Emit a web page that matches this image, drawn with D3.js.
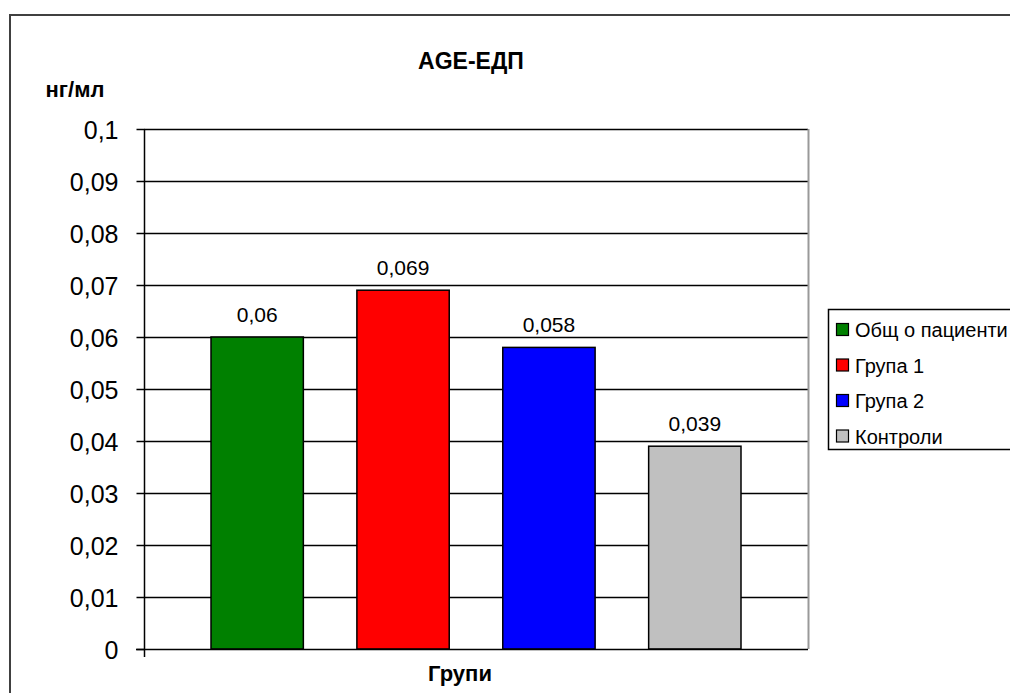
<!DOCTYPE html>
<html><head><meta charset="utf-8">
<script src="https://cdn.jsdelivr.net/npm/d3@7"></script>
<style>body{margin:0;background:#fff;}svg{display:block;font-family:"Liberation Sans",Arial,sans-serif;}</style>
</head><body><svg id="c" width="1010" height="693"></svg>
<script>
const series = ["Общ о пациенти", "Група 1", "Група 2", "Контроли"];
const values = [0.06, 0.069, 0.058, 0.039];
const labels = ["0,06", "0,069", "0,058", "0,039"];
const colors = ["#008000", "#ff0000", "#0000ff", "#c0c0c0"];
const yTicks = [0, 0.01, 0.02, 0.03, 0.04, 0.05, 0.06, 0.07, 0.08, 0.09, 0.1];
const yTickLabels = ["0", "0,01", "0,02", "0,03", "0,04", "0,05", "0,06", "0,07", "0,08", "0,09", "0,1"];
const title = "AGE-ЕДП", yTitle = "нг/мл", xTitle = "Групи";

const svg = d3.select("#c");
const L = 144, R = 808, T = 129, B = 649;
const y = d3.scaleLinear().domain([0, 0.1]).range([B, T]);
const x = d3.scaleBand().domain(series).range([L + 67, R - 67]).paddingInner(0.367).paddingOuter(0);

// outer border
svg.append("path").attr("d", `M10,693 V15 H1010`).attr("fill","none").attr("stroke","#404040").attr("stroke-width",2);

// gridlines
svg.append("g").selectAll("line").data(yTicks.slice(1)).join("line")
  .attr("x1", L).attr("x2", R).attr("y1", d => Math.round(y(d))+0.5).attr("y2", d => Math.round(y(d))+0.5)
  .attr("stroke","#000").attr("stroke-width",1.3);
// right plot border
svg.append("line").attr("x1",R+0.5).attr("x2",R+0.5).attr("y1",T).attr("y2",B).attr("stroke","#999").attr("stroke-width",2);

// bars
svg.append("g").selectAll("rect").data(series).join("rect")
  .attr("x", d => x(d)).attr("width", x.bandwidth())
  .attr("y", (d,i) => y(values[i])).attr("height", (d,i) => B - y(values[i]))
  .attr("fill", (d,i) => colors[i]).attr("stroke","#000").attr("stroke-width",1.5);

// data labels
svg.append("g").selectAll("text").data(series).join("text")
  .attr("x", d => x(d) + x.bandwidth()/2).attr("y", (d,i) => y(values[i]) - 15)
  .attr("text-anchor","middle").attr("font-size",21).attr("fill","#000")
  .text((d,i) => labels[i]);

// y axis
const yAxis = d3.axisLeft(y).tickValues(yTicks).tickFormat((d,i) => yTickLabels[i]).tickSize(8).tickPadding(18);
const ga = svg.append("g").attr("transform",`translate(${L+0.5},0)`).call(yAxis);
ga.select(".domain").attr("stroke","#000").attr("stroke-width",1.5).attr("d", `M0,${T}V${B+8}`);
ga.selectAll(".tick line").attr("stroke","#000").attr("stroke-width",1.5);
ga.selectAll(".tick text").attr("font-size",25).attr("fill","#000").attr("font-family","Liberation Sans, Arial, sans-serif").attr("dy","0.36em");
// x axis baseline
svg.append("line").attr("x1",L-8).attr("x2",R).attr("y1",B+0.5).attr("y2",B+0.5).attr("stroke","#000").attr("stroke-width",1.5);

// titles
svg.append("text").attr("x",471).attr("y",69).attr("text-anchor","middle").attr("font-size",23).attr("font-weight","bold").text(title);
svg.append("text").attr("x",75).attr("y",97).attr("text-anchor","middle").attr("font-size",22).attr("font-weight","bold").text(yTitle);
svg.append("text").attr("x",460).attr("y",681).attr("text-anchor","middle").attr("font-size",22).attr("font-weight","bold").text(xTitle);

// legend
svg.append("rect").attr("x",828.5).attr("y",309.5).attr("width",200).attr("height",140).attr("fill","#fff").attr("stroke","#000").attr("stroke-width",1.5);
const lg = svg.append("g").selectAll("g").data(series).join("g")
  .attr("transform",(d,i)=>`translate(836,${329 + i*35.5})`);
lg.append("rect").attr("x",0.5).attr("y",-5.5).attr("width",12).attr("height",12).attr("fill",(d,i)=>colors[i]).attr("stroke","#000").attr("stroke-width",1.2);
lg.append("text").attr("x",19).attr("y",8).attr("font-size",20).attr("fill","#000").text(d=>d);
</script></body></html>
